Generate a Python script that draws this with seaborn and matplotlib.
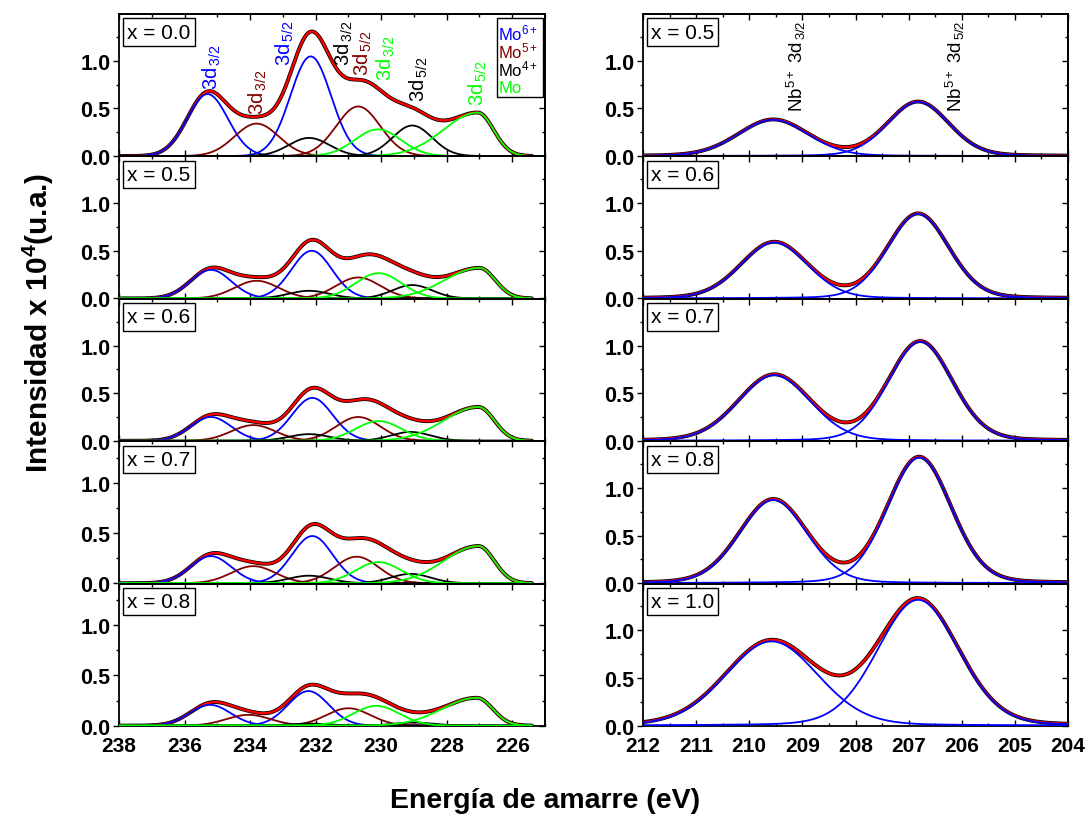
import numpy as np
import matplotlib
matplotlib.use("Agg")
import matplotlib.pyplot as plt
import seaborn as sns
from matplotlib.ticker import MultipleLocator
from matplotlib.patches import Rectangle

# ---------------- data ----------------
mo_samples = ["x = 0.0", "x = 0.5", "x = 0.6", "x = 0.7", "x = 0.8"]
nb_samples = ["x = 0.5", "x = 0.6", "x = 0.7", "x = 0.8", "x = 1.0"]

# component order: Mo6+ 3d3/2, Mo6+ 3d5/2, Mo5+ 3d3/2, Mo5+ 3d5/2,
#                  Mo4+ 3d3/2, Mo4+ 3d5/2, Mo 3d3/2, Mo 3d5/2
mo_species = ["Mo6+", "Mo6+", "Mo5+", "Mo5+", "Mo4+", "Mo4+", "Mo", "Mo"]
mo_centers_x00 = [235.30, 232.15, 233.80, 230.70, 232.20, 229.05, 230.10, 227.05]
mo_centers_x05 = [235.20, 232.12, 233.80, 230.70, 232.20, 229.05, 230.08, 227.00]
mo_centers_x06 = [235.20, 232.10, 233.90, 230.70, 232.20, 229.10, 230.08, 227.03]
mo_centers_x07 = [235.20, 232.10, 233.90, 230.75, 232.20, 229.10, 230.08, 227.03]
mo_centers_x08 = [235.22, 232.22, 234.05, 231.00, 232.20, 229.00, 230.15, 227.08]
mo_heights_x00 = [0.650, 1.045, 0.340, 0.520, 0.190, 0.320, 0.280, 0.455]
mo_heights_x05 = [0.300, 0.500, 0.185, 0.220, 0.080, 0.140, 0.265, 0.320]
mo_heights_x06 = [0.250, 0.450, 0.165, 0.250, 0.070, 0.093, 0.207, 0.355]
mo_heights_x07 = [0.270, 0.470, 0.170, 0.264, 0.075, 0.093, 0.210, 0.370]
mo_heights_x08 = [0.207, 0.344, 0.107, 0.173, 0.020, 0.030, 0.197, 0.277]
mo_fwhm_left = [1.46, 1.46, 1.58, 1.58, 1.46, 1.42, 1.65, 2.47]
mo_fwhm_right = [1.46, 1.46, 1.58, 1.58, 1.46, 1.42, 1.65, 1.13]

nb_center_32 = [209.55, 209.53, 209.53, 209.55, 209.58]
nb_height_32 = [0.380, 0.588, 0.690, 0.874, 0.884]
nb_fwhm_32 = [1.55, 1.48, 1.60, 1.50, 2.05]
nb_center_52 = [206.82, 206.82, 206.78, 206.80, 206.82]
nb_height_52 = [0.568, 0.887, 1.040, 1.320, 1.320]
nb_fwhm_52 = [1.36, 1.36, 1.42, 1.42, 1.80]
nb_lorentz_fraction = 0.12

mo_ylim_top = [1.49, 1.49, 1.49, 1.415, 1.415]

# peak labels in the x = 0.0 panel: (main, subscript, energy, y, species)
mo_labels = [("3d", "3/2", 235.18, 0.70, "Mo6+"),
             ("3d", "3/2", 233.75, 0.44, "Mo5+"),
             ("3d", "5/2", 232.95, 0.96, "Mo6+"),
             ("3d", "3/2", 231.15, 0.96, "Mo4+"),
             ("3d", "5/2", 230.55, 0.85, "Mo5+"),
             ("3d", "3/2", 229.85, 0.80, "Mo"),
             ("3d", "5/2", 228.85, 0.58, "Mo4+"),
             ("3d", "5/2", 227.05, 0.54, "Mo")]
legend_names = ["Mo", "Mo", "Mo", "Mo"]
legend_sups = ["6+", "5+", "4+", ""]
legend_species = ["Mo6+", "Mo5+", "Mo4+", "Mo"]
nb_labels = [("3/2", 209.12), ("5/2", 206.12)]

colors = {"Mo6+": "#0000FF", "Mo5+": "#800000", "Mo4+": "#000000", "Mo": "#00FF00"}
nb_color = "#0000FF"

# ---------------- styling ----------------
sns.set_theme(style="ticks")
plt.rcParams["font.family"] = ["Liberation Sans", "DejaVu Sans"]
plt.rcParams["mathtext.fontset"] = "custom"
plt.rcParams["mathtext.rm"] = "Liberation Sans"
plt.rcParams["mathtext.it"] = "Liberation Sans:italic"
plt.rcParams["mathtext.bf"] = "Liberation Sans:bold"
for k in ["text.color", "axes.labelcolor", "xtick.color", "ytick.color", "axes.edgecolor"]:
    plt.rcParams[k] = "black"

W, H = 1089, 820
fig = plt.figure(figsize=(W / 100, H / 100), dpi=100)


def pv(x, c, h, wl, wr, eta=0.0):
    w = np.where(x >= c, wl, wr)  # reversed energy axis: higher energy drawn on the left
    g = np.exp(-4 * np.log(2) * (x - c) ** 2 / w ** 2)
    lo = 1.0 / (1 + 4 * (x - c) ** 2 / w ** 2)
    return h * ((1 - eta) * g + eta * lo)


def frame(ax, xlim, ylim, xmaj, xmin, show_x):
    ax.set_xlim(*xlim)
    ax.set_ylim(*ylim)
    ax.xaxis.set_major_locator(MultipleLocator(xmaj))
    ax.xaxis.set_minor_locator(MultipleLocator(xmin))
    ax.yaxis.set_major_locator(MultipleLocator(0.5))
    ax.yaxis.set_minor_locator(MultipleLocator(0.25))
    ax.tick_params(axis="y", which="major", direction="out", length=4, width=1.0,
                   labelsize=15.5, pad=2)
    ax.tick_params(axis="y", which="minor", direction="out", length=2.5, width=1.0)
    ax.tick_params(axis="x", which="major", direction="in", length=4, width=1.0,
                   labelsize=15, pad=7, labelbottom=show_x)
    ax.tick_params(axis="x", which="minor", direction="in", length=2.5, width=1.0)
    ax.set_yticks([0.0, 0.5, 1.0])
    ax.set_yticklabels(["0.0", "0.5", "1.0"], fontweight="bold")
    if show_x:
        for lab in ax.get_xticklabels():
            lab.set_fontweight("bold")
    top = ax.secondary_xaxis("top")
    top.xaxis.set_major_locator(MultipleLocator(xmaj))
    top.xaxis.set_minor_locator(MultipleLocator(xmin))
    top.tick_params(which="major", direction="in", length=4, width=1.0, labeltop=False)
    top.tick_params(which="minor", direction="in", length=2.5, width=1.0)
    right = ax.secondary_yaxis("right")
    right.yaxis.set_major_locator(MultipleLocator(0.5))
    right.yaxis.set_minor_locator(MultipleLocator(0.25))
    right.tick_params(which="major", direction="in", length=4, width=1.0, labelright=False)
    right.tick_params(which="minor", direction="in", length=2.5, width=1.0)
    for sp in list(ax.spines.values()) + list(top.spines.values()) + list(right.spines.values()):
        sp.set_linewidth(1.3)
        sp.set_color("black")
    ax.set_xlabel("")
    ax.set_ylabel("")


def sample_box(ax, text):
    ax.text(0.019, 0.94, text, transform=ax.transAxes, ha="left", va="top",
            fontsize=15, zorder=10,
            bbox=dict(boxstyle="square,pad=0.2", fc="white", ec="black", lw=1.0))


def line(ax, x, y, color, lw, z):
    sns.lineplot(x=x, y=y, ax=ax, color=color, lw=lw, estimator=None, sort=False,
                 legend=False, zorder=z)


top_px, bot_px = 15, 727
ph = (bot_px - top_px) / 5
lx0, lx1 = 119, 545
rx0, rx1 = 643, 1068

E_mo = np.linspace(238, 225.4, 900)
E_nb = np.linspace(212, 204, 700)

mo_centers = [mo_centers_x00, mo_centers_x05, mo_centers_x06, mo_centers_x07, mo_centers_x08]
mo_heights = [mo_heights_x00, mo_heights_x05, mo_heights_x06, mo_heights_x07, mo_heights_x08]

for i in range(5):
    y0 = 1 - (top_px + (i + 1) * ph) / H
    # ---------------- Mo 3d ----------------
    ax = fig.add_axes([lx0 / W, y0, (lx1 - lx0) / W, ph / H])
    comps = [pv(E_mo, c, h, wl, wr) for c, h, wl, wr in
             zip(mo_centers[i], mo_heights[i], mo_fwhm_left, mo_fwhm_right)]
    env = np.sum(comps, axis=0)
    line(ax, E_mo, env, "black", 2.8, 2)
    line(ax, E_mo, env, "#FF0000", 1.7, 3)
    for sp in ["Mo6+", "Mo5+", "Mo4+", "Mo"]:
        for comp, s in zip(comps, mo_species):
            if s == sp:
                line(ax, E_mo, comp, colors[sp], 1.3, 4)
    frame(ax, (238, 225), (-0.004, mo_ylim_top[i]), 2, 1, i == 4)
    sample_box(ax, mo_samples[i])
    if i == 0:
        for main, sub, e, yv, sp in mo_labels:
            ax.text(e, yv, main + r"$_{\,\mathregular{" + sub + "}}$", rotation=90,
                    ha="center", va="bottom", fontsize=14.5, color=colors[sp], zorder=6)
        bx0, bx1 = (497 - lx0) / (lx1 - lx0), (543 - lx0) / (lx1 - lx0)
        by1 = 1 - (19 - top_px) / ph
        by0 = 1 - (98 - top_px) / ph
        ax.add_patch(Rectangle((bx0, by0), bx1 - bx0, by1 - by0, transform=ax.transAxes,
                               fc="white", ec="black", lw=1.0, zorder=7))
        base = [40, 58, 76, 93]
        for nm, sup, sp, b in zip(legend_names, legend_sups, legend_species, base):
            txt = nm + (r"$^{\mathregular{" + sup + "}}$" if sup else "")
            ax.text((498.5 - lx0) / (lx1 - lx0), 1 - (b - top_px) / ph, txt,
                    transform=ax.transAxes, ha="left", va="baseline", fontsize=12,
                    color=colors[sp], zorder=8)

    # ---------------- Nb 3d ----------------
    ax2 = fig.add_axes([rx0 / W, y0, (rx1 - rx0) / W, ph / H])
    p32 = pv(E_nb, nb_center_32[i], nb_height_32[i], nb_fwhm_32[i], nb_fwhm_32[i],
             nb_lorentz_fraction)
    p52 = pv(E_nb, nb_center_52[i], nb_height_52[i], nb_fwhm_52[i], nb_fwhm_52[i],
             nb_lorentz_fraction)
    env2 = p32 + p52
    line(ax2, E_nb, env2, "black", 2.8, 2)
    line(ax2, E_nb, env2, "#FF0000", 1.7, 3)
    line(ax2, E_nb, p32, nb_color, 1.3, 4)
    line(ax2, E_nb, p52, nb_color, 1.3, 4)
    frame(ax2, (212, 204), (-0.004, 1.49), 1, 0.5, i == 4)
    sample_box(ax2, nb_samples[i])
    if i == 0:
        for sub, e in nb_labels:
            ax2.text(e, 0.47, r"Nb$^{\mathregular{5+}}$ 3d$_{\,\mathregular{" + sub + "}}$",
                     rotation=90, ha="center", va="bottom", fontsize=13.5,
                     color="black", zorder=6)

fig.text(38 / W, 1 - 323 / H, r"Intensidad x 10$^{\mathbf{4}}$(u.a.)", rotation=90,
         ha="center", va="center", fontsize=21.5, fontweight="bold")
fig.text(545 / W, 1 - 801 / H, "Energía de amarre (eV)", ha="center", va="center",
         fontsize=20.5, fontweight="bold")

fig.savefig("out.png", dpi=100)
